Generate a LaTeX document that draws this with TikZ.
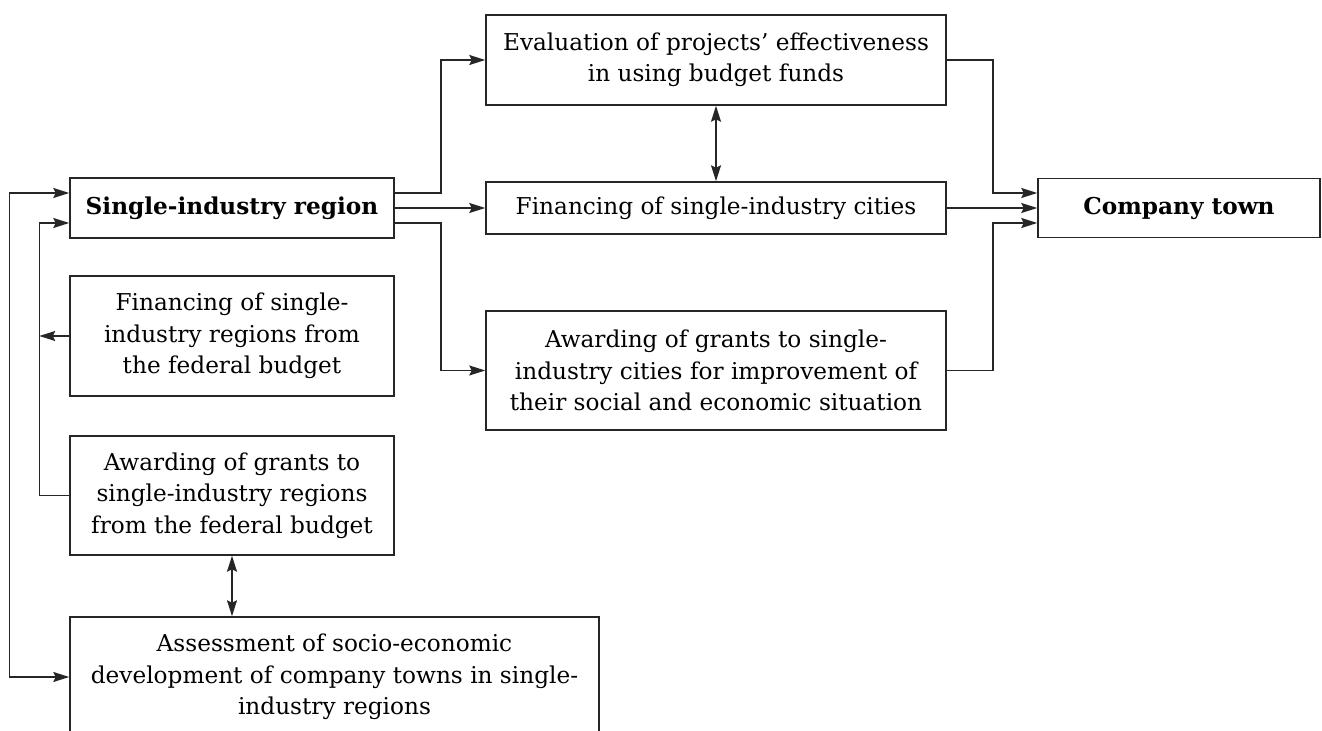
\documentclass[tikz,border=0pt]{standalone}
\usepackage{fontspec}
\setmainfont{DejaVu Serif}
\usetikzlibrary{arrows.meta}

\begin{document}
\begin{tikzpicture}[x=0.5pt,y=-0.5pt,line width=0.75pt,
>={Stealth[length=8pt,width=5pt,inset=1.2pt]},
link/.style={draw=black!85},
box/.style={
	% The shape:
	rectangle,inner sep=0pt,
	% The border:
	draw=black!85,
	% Font
	font=\fontsize{11.6}{15.75}\selectfont,align=center},
head/.style={box,font=\fontsize{11.6}{15.75}\selectfont\bfseries}]

\clip (0,0) rectangle (1322,731);

% main column
\node (A) [head,minimum width=162pt,minimum height=30pt] at (232,208) {Single-industry region};
\node (B) [box,minimum width=230pt,minimum height=45pt] at (716,60) {Evaluation of projects' effectiveness\\in using budget funds};
\node (C) [box,minimum width=230pt,minimum height=26pt] at (716,208) {Financing of single-industry cities};
\node (D) [box,minimum width=230pt,minimum height=59.5pt] at (716,370.5) {Awarding of grants to single-\\industry cities for improvement of\\their social and economic situation};
\node (T) [head,minimum width=141pt,minimum height=29.5pt] at (1179,208) {Company town};

% left branch
\node (a) [box,minimum width=162pt,minimum height=60pt] at (232,336) {Financing of single-\\industry regions from\\the federal budget};
\node (b) [box,minimum width=162pt,minimum height=59.5pt] at (232,495.5) {Awarding of grants to\\single-industry regions\\from the federal budget};
\node (c) [box,minimum width=264.5pt,minimum height=60pt] at (334.5,677) {Assessment of socio-economic\\development of company towns in single-\\industry regions};

\draw[link,->] ([yshift=7.5pt]A.east) -- ++(46,0) |- (B.west);
\draw[link,->] (A.east) -- (C.west);
\draw[link,->] ([yshift=-7.5pt]A.east) -- ++(46,0) |- (D.west);
\draw[link,<->] (B.south) -- (C.north);

\draw[link,->] (B.east) -- ++(46,0) |- ([yshift=7.5pt]T.west);
\draw[link,->] (C.east) -- (T.west);
\draw[link,->] (D.east) -- ++(46,0) |- ([yshift=-7.5pt]T.west);

\draw[link,->] (a.west) -- ++(-30,0);
\draw[link,->] (b.west) -- ++(-30,0) |- ([yshift=-7.5pt]A.west);
\draw[link,<->] ([yshift=7.5pt]A.west) -- ++(-60,0) |- (c.west);
\draw[link,<->] (b.south) -- (b.south |- c.north);

\end{tikzpicture}
\end{document}
